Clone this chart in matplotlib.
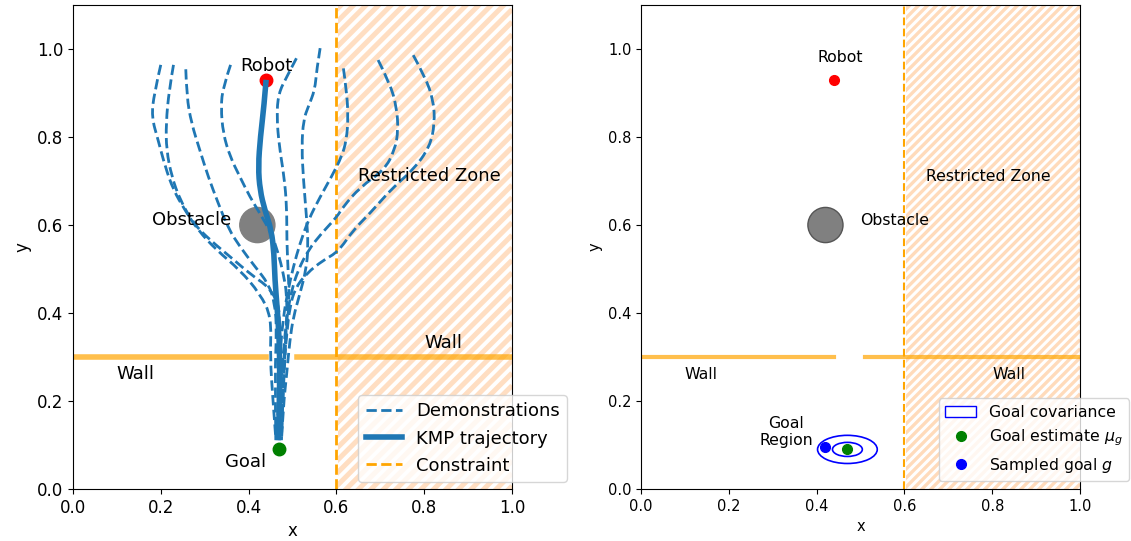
import matplotlib
matplotlib.use("Agg")
import matplotlib.pyplot as plt
import numpy as np
from matplotlib.patches import Circle, Ellipse, Rectangle, Patch, PathPatch
from matplotlib.path import Path
from matplotlib.lines import Line2D
from matplotlib.collections import LineCollection

# ---------------------------------------------------------------- scene data
robot = (0.44, 0.93)
goal_mean = (0.47, 0.09)
goal_sample = (0.42, 0.095)
goal_sigma = (0.034, 0.016)
cov_levels = [1, 2]
obstacle_center = (0.42, 0.60)
obstacle_radius = 0.04
constraint_x = 0.6
zone_right = 1.0
wall_y = 0.3
wall_segments = [(0.0, 0.44), (0.51, 1.0)]

# demonstrated trajectories (x, y)
demo_xs = [
    [0.200, 0.185, 0.179, 0.194, 0.210, 0.229, 0.255, 0.285, 0.327, 0.380, 0.426, 0.452, 0.449, 0.456, 0.462],
    [0.229, 0.219, 0.212, 0.213, 0.225, 0.244, 0.274, 0.312, 0.358, 0.407, 0.445, 0.468, 0.471, 0.470, 0.468, 0.465],
    [0.257, 0.259, 0.270, 0.289, 0.308, 0.331, 0.354, 0.380, 0.415, 0.445, 0.460, 0.464, 0.460, 0.462],
    [0.359, 0.342, 0.337, 0.342, 0.358, 0.380, 0.403, 0.426, 0.452, 0.468, 0.479, 0.487, 0.487, 0.483, 0.478, 0.475],
    [0.509, 0.487, 0.468, 0.464, 0.470, 0.481, 0.487, 0.487, 0.490, 0.493, 0.487, 0.481, 0.473, 0.470],
    [0.563, 0.555, 0.551, 0.536, 0.525, 0.521, 0.525, 0.532, 0.536, 0.531, 0.517, 0.502, 0.494, 0.487, 0.479, 0.475],
    [0.616, 0.623, 0.627, 0.623, 0.612, 0.589, 0.563, 0.536, 0.517, 0.502, 0.490, 0.479, 0.471, 0.468, 0.468],
    [0.695, 0.722, 0.737, 0.741, 0.733, 0.709, 0.654, 0.615, 0.601, 0.566, 0.536, 0.513, 0.498, 0.487, 0.478, 0.471, 0.471],
    [0.775, 0.802, 0.821, 0.824, 0.813, 0.775, 0.730, 0.676, 0.638, 0.604, 0.570, 0.532, 0.506, 0.494, 0.487, 0.479, 0.475],
]
demo_ys = [
    [0.964, 0.899, 0.846, 0.793, 0.733, 0.679, 0.634, 0.588, 0.543, 0.498, 0.444, 0.391, 0.300, 0.195, 0.115],
    [0.964, 0.907, 0.831, 0.770, 0.710, 0.657, 0.604, 0.566, 0.528, 0.486, 0.460, 0.422, 0.376, 0.300, 0.202, 0.115],
    [0.954, 0.892, 0.831, 0.770, 0.710, 0.649, 0.592, 0.551, 0.505, 0.467, 0.422, 0.361, 0.263, 0.111],
    [0.964, 0.914, 0.869, 0.808, 0.755, 0.710, 0.664, 0.626, 0.581, 0.535, 0.490, 0.444, 0.391, 0.300, 0.202, 0.119],
    [0.979, 0.937, 0.899, 0.846, 0.778, 0.710, 0.642, 0.566, 0.498, 0.429, 0.369, 0.300, 0.202, 0.115],
    [1.002, 0.952, 0.907, 0.869, 0.839, 0.778, 0.702, 0.619, 0.551, 0.498, 0.444, 0.391, 0.338, 0.263, 0.187, 0.111],
    [0.956, 0.907, 0.846, 0.793, 0.755, 0.710, 0.664, 0.611, 0.558, 0.505, 0.452, 0.391, 0.300, 0.202, 0.111],
    [0.975, 0.922, 0.869, 0.816, 0.770, 0.725, 0.686, 0.641, 0.618, 0.581, 0.543, 0.498, 0.452, 0.391, 0.300, 0.202, 0.111],
    [0.986, 0.937, 0.884, 0.831, 0.778, 0.725, 0.687, 0.626, 0.588, 0.539, 0.520, 0.490, 0.456, 0.414, 0.354, 0.263, 0.111],
]

# KMP reproduction
kmp_x = [0.440, 0.435, 0.427, 0.422, 0.426, 0.437, 0.452, 0.458, 0.460, 0.465, 0.470, 0.471, 0.470, 0.468]
kmp_y = [0.930, 0.869, 0.801, 0.733, 0.679, 0.634, 0.588, 0.535, 0.475, 0.414, 0.338, 0.263, 0.187, 0.111]

# ---------------------------------------------------------------- styling
BLUE = "tab:blue"
WALL_COLOR = "orange"
XLIM = (0.0, 1.0)
YLIM = (0.0, 1.1)


def smooth_path(xs, ys):
    """Quadratic Bezier path using the waypoints as control points."""
    pts = np.column_stack([xs, ys])
    verts = [pts[0]]
    codes = [Path.MOVETO]
    for i in range(1, len(pts) - 1):
        end = pts[-1] if i == len(pts) - 2 else (pts[i] + pts[i + 1]) / 2
        verts += [pts[i], end]
        codes += [Path.CURVE3, Path.CURVE3]
    return Path(verts, codes)


def draw_trajectory(ax, xs, ys, **kw):
    ax.add_patch(PathPatch(smooth_path(xs, ys), fill=False, capstyle="butt",
                           joinstyle="round", **kw))


def striped_zone(ax, x0, x1, spacing, lw, alpha):
    """Diagonal stripes filling the restricted zone, clipped to it."""
    zone = Rectangle((x0 + 0.004, YLIM[0]), x1 - x0 - 0.004, YLIM[1] - YLIM[0],
                     facecolor="none", edgecolor="none")
    ax.add_patch(zone)
    offsets = np.arange(-x1 - 0.05, YLIM[1] - x0 + 0.05, spacing)
    segs = [[(x0, x0 + c), (x1, x1 + c)] for c in offsets]
    lc = LineCollection(segs, colors="tab:orange", linewidths=lw, alpha=alpha,
                        zorder=0.5)
    ax.add_collection(lc)
    lc.set_clip_path(zone)


def draw_walls(ax, lw):
    for a, b in wall_segments:
        ax.plot([a, b], [wall_y, wall_y], color=WALL_COLOR, lw=lw, alpha=0.7,
                zorder=1.5)


fig = plt.figure(figsize=(11.31, 5.41), dpi=100)
ax1 = fig.add_axes([0.0645, 0.0961, 0.3882, 0.8946])
ax2 = fig.add_axes([0.5668, 0.0961, 0.3882, 0.8946])

# ---------------------------------------------------------------- left panel
fs1_tick = 12
fs1 = 13
striped_zone(ax1, constraint_x, zone_right, 0.0285, 3.6, 0.25)
ax1.axvline(constraint_x, color="orange", ls="--", lw=2, zorder=2)
draw_walls(ax1, 4)
ax1.add_patch(Circle(obstacle_center, obstacle_radius, color="gray", zorder=2))

for xs, ys in zip(demo_xs, demo_ys):
    draw_trajectory(ax1, xs, ys, ls="--", edgecolor=BLUE, lw=2, zorder=3)
ax1.plot(*robot, "o", color="red", ms=9, zorder=3.5)
draw_trajectory(ax1, kmp_x, kmp_y, edgecolor=BLUE, lw=4, zorder=4)
ax1.plot(*goal_mean, "o", color="green", ms=9, zorder=4)

ax1.text(0.44, 0.95, "Robot", ha="center", fontsize=fs1)
ax1.text(0.44, 0.05, "Goal", ha="right", fontsize=fs1)
ax1.text(0.18, 0.60, "Obstacle", fontsize=fs1)
ax1.text(0.65, 0.70, "Restricted Zone", fontsize=fs1)
ax1.text(0.10, 0.25, "Wall", fontsize=fs1)
ax1.text(0.80, 0.32, "Wall", fontsize=fs1)

left_handles = [
    Line2D([], [], ls="--", color=BLUE, lw=2, label="Demonstrations"),
    Line2D([], [], color=BLUE, lw=4, label="KMP trajectory"),
    Line2D([], [], ls="--", color="orange", lw=2, label="Constraint"),
]
ax1.legend(handles=left_handles, loc="lower left",
           bbox_to_anchor=(0.65, 0.015), borderaxespad=0, fontsize=fs1)

ax1.set_xlim(*XLIM)
ax1.set_ylim(*YLIM)
ax1.set_xlabel("x", fontsize=fs1_tick)
ax1.set_ylabel("y", fontsize=fs1_tick)
ax1.tick_params(labelsize=fs1_tick)

# ---------------------------------------------------------------- right panel
fs2_tick = 10.5
fs2 = 11.3
striped_zone(ax2, constraint_x, zone_right, 0.0205, 2.4, 0.28)
ax2.axvline(constraint_x, color="orange", ls="--", lw=1.5, zorder=2)
draw_walls(ax2, 3)
ax2.add_patch(Circle(obstacle_center, obstacle_radius, facecolor="gray",
                     edgecolor="#555555", lw=1, zorder=2))
ax2.plot(*robot, "o", color="red", ms=7, zorder=3)

for n in cov_levels:
    ax2.add_patch(Ellipse(goal_mean, 2 * n * goal_sigma[0], 2 * n * goal_sigma[1],
                          facecolor="none", edgecolor="blue", lw=1.2, zorder=3))
ax2.plot(*goal_mean, "o", color="green", ms=7, zorder=4)
ax2.plot(*goal_sample, "o", color="blue", ms=7, zorder=4)

ax2.text(0.454, 0.97, "Robot", ha="center", fontsize=fs2)
ax2.text(0.50, 0.60, "Obstacle", fontsize=fs2)
ax2.text(0.65, 0.70, "Restricted Zone", fontsize=fs2)
ax2.text(0.10, 0.25, "Wall", fontsize=fs2)
ax2.text(0.80, 0.25, "Wall", fontsize=fs2)
ax2.text(0.33, 0.13, "Goal\nRegion", ha="center", va="center", fontsize=fs2)

right_handles = [
    Patch(facecolor="white", edgecolor="blue", label="Goal covariance"),
    Line2D([], [], ls="none", marker="o", color="green", ms=7,
           label=r"Goal estimate $\mu_g$"),
    Line2D([], [], ls="none", marker="o", color="blue", ms=7,
           label=r"Sampled goal $g$"),
]
ax2.legend(handles=right_handles, loc="lower left",
           bbox_to_anchor=(0.678, 0.016), borderaxespad=0, fontsize=fs2)

ax2.set_xlim(*XLIM)
ax2.set_ylim(*YLIM)
ax2.set_xlabel("x", fontsize=fs2_tick)
ax2.set_ylabel("y", fontsize=fs2_tick)
ax2.tick_params(labelsize=fs2_tick)

fig.savefig("out.png", dpi=100)
